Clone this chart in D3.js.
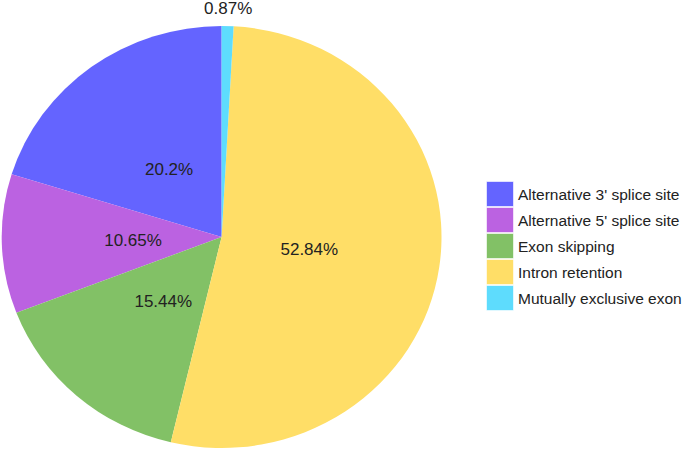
<!DOCTYPE html>
<html>
<head>
<meta charset="utf-8">
<script src="https://cdn.jsdelivr.net/npm/d3@7"></script>
<style>
    body { margin: 0; background: #fff; }
    text { font-family: "Liberation Sans", Arial, sans-serif; }
</style>
</head>
<body>
<div id="chart"></div>
<script>
// Data
const categories = ["Alternative 3' splice site", "Alternative 5' splice site", "Exon skipping", "Intron retention", "Mutually exclusive exon"];
const percents = [20.2, 10.65, 15.44, 52.84, 0.87];
const labels = ["20.2%", "10.65%", "15.44%", "52.84%", "0.87%"];
const colors = ["#6464ff", "#bb62e1", "#82c166", "#ffde67", "#5edcfd"];

const width = 685;
const height = 450;
const cx = 221.6;
const cy = 237;
const radius = 211;
// the original pie is a little wider than it is tall
const stretchX = 219.9 / 211;

let svg = d3.select("#chart")
    .append("svg")
    .attr("width", width)
    .attr("height", height);

let data = categories.map(function(c, i) {
    return { name: c, value: percents[i], label: labels[i], color: colors[i] };
});

// Slices go counter-clockwise from 12 o'clock, in legend order
let pie = d3.pie()
    .sort(null)
    .value(function(d) { return d.value; })
    .startAngle(0)
    .endAngle(-2 * Math.PI);

let arc = d3.arc().innerRadius(0).outerRadius(radius);

let g = svg.append("g")
    .attr("transform", `translate(${cx}, ${cy})`);

let arcs = pie(data);

g.append("g")
    .attr("transform", `scale(${stretchX}, 1)`)
    .selectAll(".slice")
    .data(arcs)
    .enter().append("path")
    .attr("class", "slice")
    .attr("d", arc)
    .attr("fill", function(d) { return d.data.color; });

// Labels: the small slice sits outside, above the pie
g.selectAll(".lbl")
    .data(arcs)
    .enter().append("text")
    .attr("class", "lbl")
    .attr("text-anchor", "middle")
    .attr("font-size", 17)
    .attr("fill", "#222")
    .attr("transform", function(d) {
        let mid = (d.startAngle + d.endAngle) / 2;
        let r = d.data.value < 2 ? radius + 18.5 : radius * 0.403;
        return `translate(${Math.sin(mid) * r * stretchX}, ${-Math.cos(mid) * r + 6})`;
    })
    .text(function(d) { return d.data.label; });

// Legend
let legend = svg.append("g")
    .attr("transform", "translate(486, 181)");

let rowH = 26;

let rows = legend.selectAll(".row")
    .data(data)
    .enter().append("g")
    .attr("class", "row")
    .attr("transform", function(d, i) { return `translate(0, ${i * rowH})`; });

rows.append("rect")
    .attr("x", 0.5)
    .attr("y", 0.5)
    .attr("width", 27)
    .attr("height", rowH - 1)
    .attr("fill", function(d) { return d.color; })
    .attr("stroke", "#ffffff")
    .attr("stroke-opacity", 0.6);

rows.append("text")
    .attr("x", 32)
    .attr("y", 18.5)
    .attr("font-size", 15.5)
    .attr("fill", "#222")
    .text(function(d) { return d.name; });
</script>
</body>
</html>
